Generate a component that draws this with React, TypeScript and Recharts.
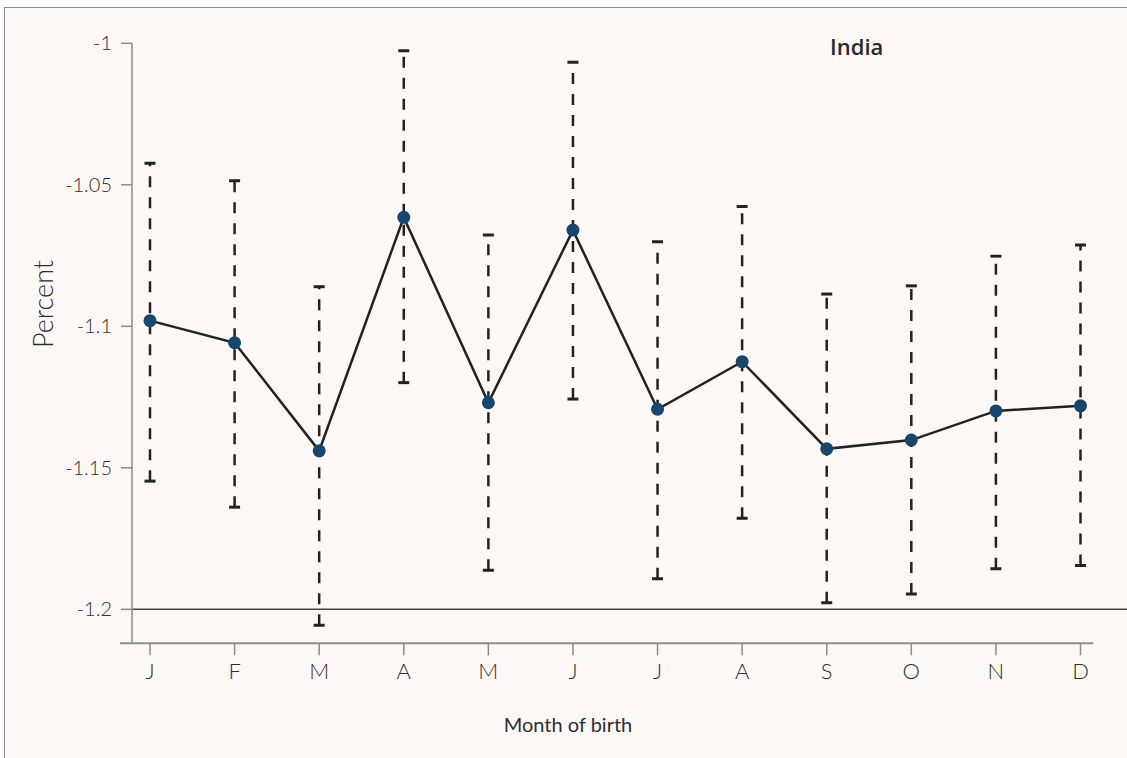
import { ComposedChart, Line, Scatter, ErrorBar, XAxis, YAxis, ReferenceLine } from "recharts";

const months = ["J", "F", "M", "A", "M", "J", "J", "A", "S", "O", "N", "D"];
const estimate = [-1.098, -1.1058, -1.144, -1.0615, -1.127, -1.066, -1.1293, -1.1125, -1.1433, -1.1402, -1.1299, -1.1281];
const lower = [-1.1547, -1.1639, -1.2056, -1.1199, -1.1862, -1.1257, -1.1892, -1.1678, -1.1977, -1.1946, -1.1857, -1.1845];
const upper = [-1.0424, -1.0486, -1.086, -1.0026, -1.0677, -1.0067, -1.0701, -1.0577, -1.0886, -1.0857, -1.0752, -1.0713];
const yTicks = [-1.2, -1.15, -1.1, -1.05, -1];

const data = months.map((m, i) => ({
  x: i + 1,
  est: estimate[i],
  lo: lower[i],
  hi: upper[i],
  err: [estimate[i] - lower[i], upper[i] - estimate[i]],
}));

const INK = "#222";
const AXIS = "#8c8c8c";
const TEXT = "#2e2e2e";
const FONT = "Lato, 'Open Sans', sans-serif";

const Cap = (p: any) => (
  <line x1={p.cx - 5.5} x2={p.cx + 5.5} y1={p.cy} y2={p.cy} stroke={INK} strokeWidth={3} />
);

export default function App() {
  return (
    <div style={{ position: "absolute", left: 0, top: 0, width: 1127, height: 758, overflow: "hidden", background: "#fff" }}>
      <div
        style={{
          position: "absolute", left: 4, top: 7, width: 1130, height: 760,
          borderLeft: "1.5px solid #8a8a8a", borderTop: "1.5px solid #8a8a8a", background: "#fdf8f5",
        }}
      />
      <div style={{ position: "absolute", left: 830, top: 32, fontFamily: "'Open Sans', sans-serif", fontWeight: 600, fontSize: 22, color: "#2a2a2a", lineHeight: "28px" }}>
        India
      </div>
      <div style={{ position: "absolute", left: 0, top: 0 }}>
        <ComposedChart width={1127} height={758} data={data} margin={{ top: 43.3, right: 0, bottom: 54.7, left: 0 }}>
          <XAxis
            dataKey="x"
            type="number"
            domain={[0.7872, 12.5497]}
            allowDataOverflow
            ticks={[1, 2, 3, 4, 5, 6, 7, 8, 9, 10, 11, 12]}
            tickFormatter={(v: number) => months[v - 1]}
            axisLine={false}
            tickLine={{ stroke: AXIS, strokeWidth: 1.5 }}
            tickSize={12}
            tickMargin={8}
            height={60}
            tick={{ fill: TEXT, fontSize: 22, fontFamily: FONT, fontWeight: 300 }}
            label={{
              content: () => (
                <text x={568} y={732} textAnchor="middle" fill={TEXT} fontSize={20} fontFamily={FONT}>
                  Month of birth
                </text>
              ),
            }}
          />
          <YAxis
            type="number"
            domain={[-1.212, -1]}
            allowDataOverflow
            ticks={yTicks}
            width={132}
            axisLine={{ stroke: AXIS, strokeWidth: 1.5 }}
            tickLine={{ stroke: AXIS, strokeWidth: 1.5 }}
            tickSize={11}
            tickMargin={9}
            tick={{ fill: TEXT, fontSize: 20, fontFamily: FONT, fontWeight: 300 }}
            label={{
              content: () => (
                <text x={53} y={304} transform="rotate(-90 53 304)" textAnchor="middle" fill={TEXT} fontSize={27} fontFamily={FONT} fontWeight={300}>
                  Percent
                </text>
              ),
            }}
          />
          <ReferenceLine y={-1.2} stroke="#444" strokeWidth={1.5} />
          <ReferenceLine
            segment={[{ x: 0.6453, y: -1.212 }, { x: 12.151, y: -1.212 }]}
            ifOverflow="visible"
            stroke={AXIS}
            strokeWidth={2}
          />
          <Line
            dataKey="est"
            stroke={INK}
            strokeWidth={2.5}
            dot={{ r: 6.5, fill: "#17466f", stroke: "none" }}
            activeDot={false}
            isAnimationActive={false}
          >
            <ErrorBar dataKey="err" direction="y" width={0} stroke={INK} strokeWidth={2.5} strokeDasharray="11 10" isAnimationActive={false} />
          </Line>
          <Scatter dataKey="hi" shape={Cap} isAnimationActive={false} />
          <Scatter dataKey="lo" shape={Cap} isAnimationActive={false} />
        </ComposedChart>
      </div>
    </div>
  );
}
